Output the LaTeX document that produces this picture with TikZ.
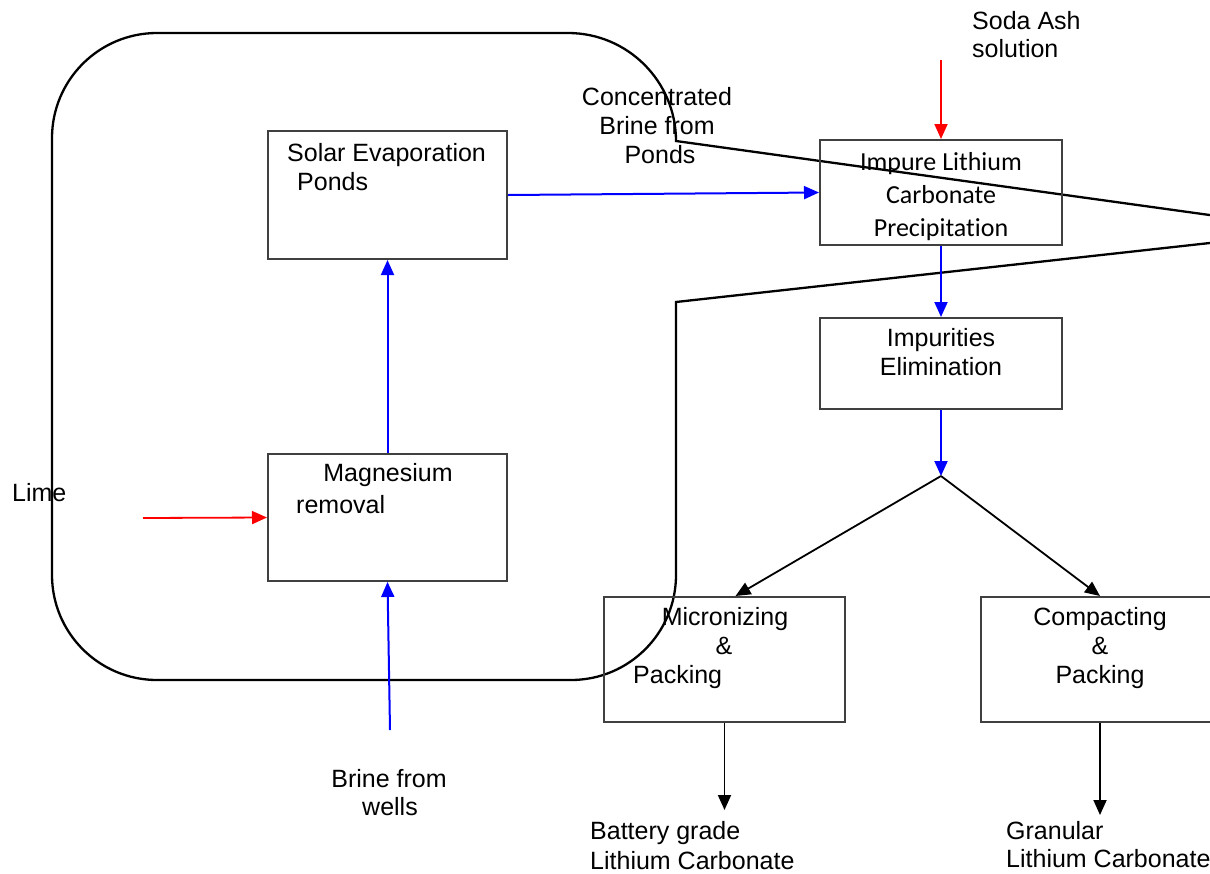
\documentclass[tikz,border=0pt]{standalone}
\usepackage{fontspec}
\setmainfont{Liberation Sans}
\newfontfamily\calfont[Ligatures=NoCommon]{Carlito}
\usetikzlibrary{arrows.meta}
\begin{document}
\begin{tikzpicture}[x=1pt,y=-1pt,
  box/.style={draw=black!75, line width=2pt, inner sep=0pt},
  txt/.style={font=\fontsize{25}{29}\selectfont, inner sep=0pt, anchor=base},
  txtl/.style={txt, anchor=base west},
  ctxt/.style={font=\calfont\fontsize{26}{33}\selectfont, inner sep=0pt, anchor=base},
  tip/.style={-{Triangle[length=15pt,width=13pt]}},
  blu/.style={draw=blue, line width=2pt, tip},
  rd/.style={draw=red, line width=1.8pt, tip},
  blk/.style={draw=black, line width=1.8pt, tip},
  outline/.style={draw=black, line width=2.3pt}
]
\useasboundingbox (0,0) rectangle (1210,873);
\clip (0,0) rectangle (1210,873);

% callout outline
\draw[outline] (52,138) arc[start angle=180,end angle=90,radius=105pt]
  -- (568,33) arc[start angle=90,end angle=0,radius=108pt]
  -- (1322,230.6) -- (676,302) -- (676,575)
  arc[start angle=0,end angle=-90,radius=105pt]
  -- (157,680) arc[start angle=270,end angle=180,radius=105pt] -- cycle;

% boxes
\node[box, minimum width=239pt, minimum height=128pt] (solar) at (387.5,195) {};
\node[box, minimum width=239pt, minimum height=127pt] (mag) at (387.5,517.5) {};
\node[box, minimum width=242pt, minimum height=105pt] (impure) at (941,192.5) {};
\node[box, minimum width=242pt, minimum height=91pt] (impur) at (941,363.5) {};
\node[box, minimum width=241pt, minimum height=125pt] (micro) at (724.5,659.5) {};
\node[box, minimum width=238pt, minimum height=125pt] (compact) at (1100,659.5) {};

% free ends
\coordinate (brinein) at (390,730);
\coordinate (limein) at (143,518);
\coordinate (sodain) at (941,60);
\coordinate (branch) at (941,476);
\coordinate (battout) at (724.5,810);
\coordinate (granout) at (1100,815);

% texts
\node[txt] (c1) at (657,105) {Concentrated};
\node[txt] (c2) at (657,134) {Brine from};
\node[txt] (c3) at (660,163) {Ponds};
\node[txtl] (s1) at (972,29) {Soda Ash};
\node[txtl] (s2) at (972,57) {solution};
\node[txtl] (so1) at (287,161) {Solar Evaporation};
\node[txtl] (so2) at (297,190) {Ponds};
\node[ctxt] (i1) at (941,170) {Impure Lithium};
\node[ctxt] (i2) at (941,203) {Carbonate};
\node[ctxt] (i3) at (941,236) {Precipitation};
\node[txt] (e1) at (941,346) {Impurities};
\node[txt] (e2) at (941,375) {Elimination};
\node[txtl] (lime) at (12,501) {Lime};
\node[txt] (m1) at (388,481) {Magnesium};
\node[txtl] (m2) at (296,513) {removal};
\node[txt] (mi1) at (725,625) {Micronizing};
\node[txt] (mi2) at (724,654) {\&};
\node[txtl] (mi3) at (633,683) {Packing};
\node[txt] (co1) at (1100,625) {Compacting};
\node[txt] (co2) at (1100,654) {\&};
\node[txt] (co3) at (1100,683) {Packing};
\node[txt] (b1) at (389,787) {Brine from};
\node[txt] (b2) at (390,815) {wells};
\node[txtl] (bg1) at (590,839) {Battery grade};
\node[txtl] (bg2) at (590,869) {Lithium Carbonate};
\node[txtl] (g1) at (1006,839) {Granular};
\node[txtl] (g2) at (1006,867) {Lithium Carbonate};

% connectors
\draw[blu] (solar.east) -- (impure.west);
\draw[blu] (mag.north) -- (solar.south);
\draw[blu] (brinein) -- (mag.south);
\draw[rd] (limein) -- (mag.west);
\draw[rd] (sodain) -- (impure.north);
\draw[blu] (impure.south) -- (impur.north);
\draw[blu] (impur.south) -- (branch);
\draw[blk] (branch) -- ([xshift=11pt]micro.north);
\draw[blk] (branch) -- (compact.north);
\draw[blk] (micro.south) -- (battout);
\draw[blk] (compact.south) -- (granout);
\end{tikzpicture}
\end{document}
